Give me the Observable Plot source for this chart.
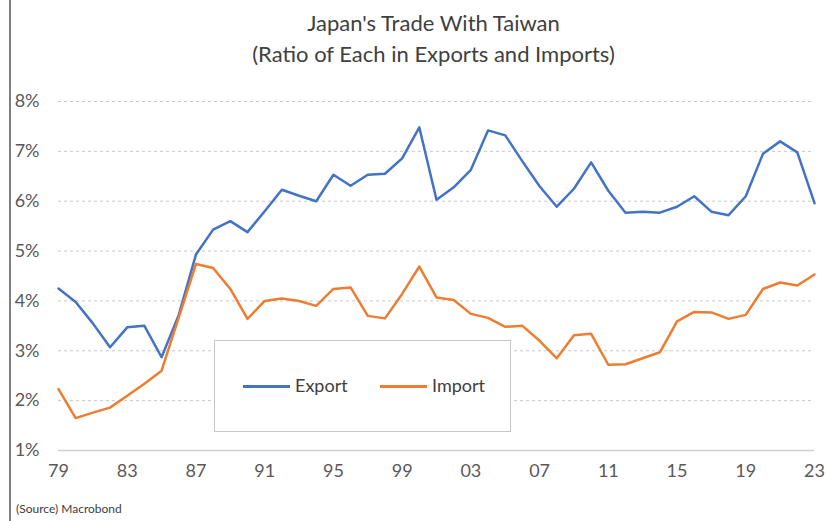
<!DOCTYPE html>
<html>
<head>
<meta charset="utf-8">
<script src="https://cdn.jsdelivr.net/npm/d3@7"></script>
<script src="https://cdn.jsdelivr.net/npm/@observablehq/plot@0.6"></script>
<style>
  body { margin: 0; background: #fff; font-family: Lato, "Open Sans", sans-serif; }
  #wrap { position: relative; width: 827px; height: 521px; overflow: hidden; background: #fff; }
  #title { height: 80px; box-sizing: border-box; padding-top: 7px; padding-left: 40px; text-align: center;
           font-size: 22px; line-height: 31px; color: #404040; }
  #border { position: absolute; left: 9px; top: 0; width: 1.5px; height: 521px; background: #7f7f7f; }
  #legend { position: absolute; left: 214px; top: 340px; width: 297px; height: 92px; box-sizing: border-box;
            border: 1.5px solid #c8c8c8; background: #fff; }
  .item { position: absolute; top: 33px; font-size: 18px; color: #404040; line-height: 22px; }
  .swatch { display: inline-block; width: 47px; height: 3px; vertical-align: middle; margin-right: 5px; position: relative; top: -1px; }
  #source { position: absolute; left: 16px; top: 501px; font-size: 12px; color: #404040; }
</style>
</head>
<body>
<div id="wrap">
  <div id="border"></div>
  <div id="title">Japan's Trade With Taiwan<br>(Ratio of Each in Exports and Imports)</div>
  <div id="chart"></div>
  <div id="legend"></div>
  <div id="source">(Source) Macrobond</div>
</div>
<script>
const years = [1979,1980,1981,1982,1983,1984,1985,1986,1987,1988,1989,1990,
  1991,1992,1993,1994,1995,1996,1997,1998,1999,2000,
  2001,2002,2003,2004,2005,2006,2007,2008,2009,2010,
  2011,2012,2013,2014,2015,2016,2017,2018,2019,2020,
  2021,2022,2023];

const exportShare = [4.25,3.98,3.55,3.07,3.47,3.50,2.87,3.72,4.93,5.43,5.60,5.38,
  5.80,6.23,6.11,6.00,6.53,6.31,6.53,6.55,6.86,7.48,
  6.03,6.28,6.63,7.42,7.32,6.80,6.30,5.89,6.25,6.78,
  6.21,5.77,5.79,5.77,5.89,6.10,5.79,5.72,6.10,6.95,
  7.20,6.98,5.96];

const importShare = [2.23,1.65,1.76,1.86,2.10,2.34,2.60,3.67,4.74,4.66,4.24,3.64,
  4.00,4.05,4.00,3.90,4.24,4.27,3.70,3.65,4.14,4.69,
  4.07,4.02,3.74,3.66,3.48,3.50,3.20,2.85,3.31,3.34,
  2.72,2.73,2.85,2.97,3.59,3.78,3.77,3.64,3.72,4.24,
  4.37,4.31,4.53];

const seriesNames = ["Export", "Import"];
const seriesColors = ["#4472C4", "#ED7D31"];

const xTickValues = [1979,1983,1987,1991,1995,1999,2003,2007,2011,2015,2019,2023];
const xTickLabels = ["79","83","87","91","95","99","03","07","11","15","19","23"];
const yTickValues = [1,2,3,4,5,6,7,8];
const yTickLabels = ["1%","2%","3%","4%","5%","6%","7%","8%"];

const rows = [];
years.forEach((yr, i) => {
  rows.push({year: yr, value: exportShare[i], series: seriesNames[0]});
  rows.push({year: yr, value: importShare[i], series: seriesNames[1]});
});

const chart = Plot.plot({
  width: 827,
  height: 410,
  marginTop: 21,
  marginBottom: 40,
  marginLeft: 58,
  marginRight: 13,
  style: { fontFamily: "Lato, 'Open Sans', sans-serif", fontSize: "18px", color: "#595959", background: "transparent" },
  x: { domain: [1979, 2023] },
  y: { domain: [1, 8] },
  color: { domain: seriesNames, range: seriesColors },
  marks: [
    Plot.gridY(yTickValues.filter(v => v > 1), { stroke: "#c8c8c8", strokeOpacity: 1, strokeDasharray: "3,3", strokeWidth: 1 }),
    Plot.ruleY([1], { stroke: "#d0d0d0", strokeWidth: 1.5 }),
    Plot.line(rows, { x: "year", y: "value", z: "series", stroke: "series", strokeWidth: 2.5, strokeLinejoin: "round" }),
    Plot.axisX(xTickValues, { tickSize: 0, tickPadding: 14, label: null,
      tickFormat: d => xTickLabels[xTickValues.indexOf(d)] }),
    Plot.axisY(yTickValues, { tickSize: 0, tickPadding: 19, label: null,
      tickFormat: d => yTickLabels[yTickValues.indexOf(d)] })
  ]
});
document.getElementById("chart").appendChild(chart);

const legend = document.getElementById("legend");
const legendLefts = [28, 165];
seriesNames.forEach((name, i) => {
  const item = document.createElement("div");
  item.className = "item";
  item.style.left = legendLefts[i] + "px";
  const sw = document.createElement("span");
  sw.className = "swatch";
  sw.style.background = seriesColors[i];
  item.appendChild(sw);
  item.appendChild(document.createTextNode(name));
  legend.appendChild(item);
});
</script>
</body>
</html>
